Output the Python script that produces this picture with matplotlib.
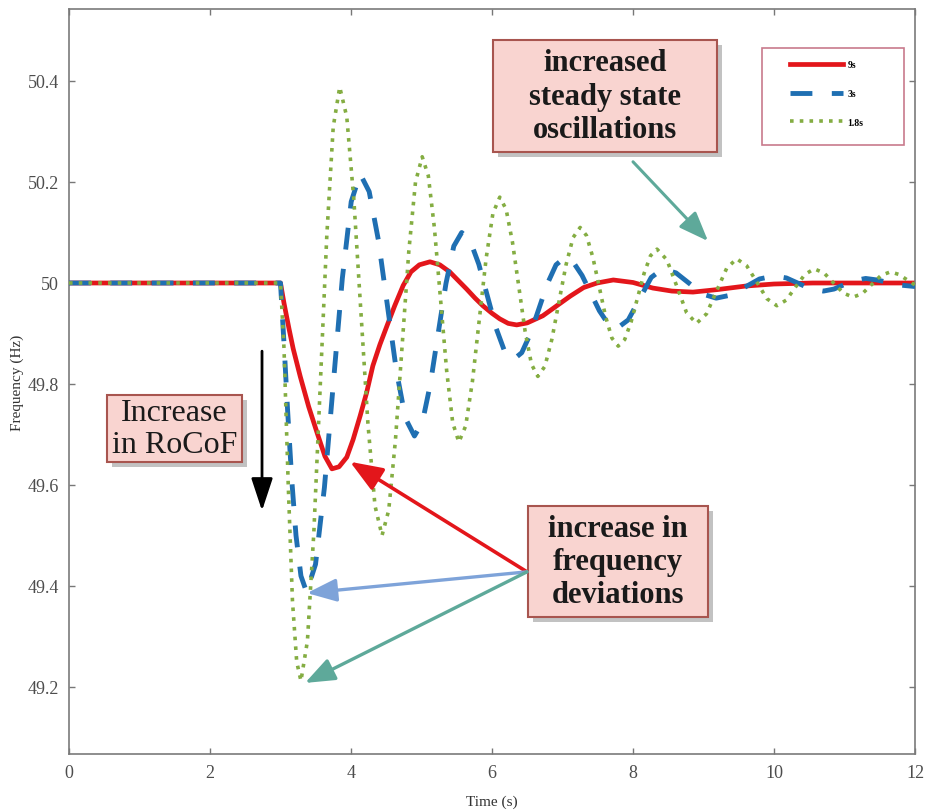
"""Frequency response for three inertia constants."""
import matplotlib.pyplot as plt
import matplotlib.patheffects as pe
from matplotlib.patches import Rectangle

# inertia constant H = 9 s
t_9s = [0.0, 3.00, 3.05, 3.12, 3.18, 3.28, 3.40, 3.52, 3.63, 3.73, 3.83,
        3.94, 4.03, 4.13, 4.22, 4.31, 4.41, 4.51, 4.62, 4.74, 4.85, 4.97,
        5.12, 5.26, 5.40, 5.52, 5.64, 5.76, 5.87, 6.00, 6.11, 6.23, 6.35,
        6.50, 6.72, 6.92, 7.11, 7.30, 7.49, 7.72, 8.00, 8.28, 8.55, 8.85,
        9.20, 9.60, 10.00, 10.55, 12.00]
f_9s = [50.000, 50.000, 49.960, 49.910, 49.870, 49.815, 49.755, 49.703,
        49.657, 49.632, 49.636, 49.655, 49.690, 49.737, 49.782, 49.836,
        49.878, 49.915, 49.955, 49.995, 50.022, 50.036, 50.042, 50.036,
        50.022, 50.005, 49.988, 49.970, 49.955, 49.940, 49.929, 49.920,
        49.917, 49.921, 49.935, 49.955, 49.974, 49.991, 50.000, 50.006,
        50.001, 49.990, 49.984, 49.982, 49.987, 49.994, 49.998, 50.000,
        50.000]

# inertia constant H = 3 s
t_3s = [0.0, 3.00, 3.05, 3.10, 3.16, 3.22, 3.29, 3.37,
        3.497, 3.623, 3.750, 3.877, 4.003, 4.13,
        4.258, 4.387, 4.515, 4.643, 4.772, 4.90,
        5.012, 5.123, 5.235, 5.347, 5.458, 5.57,
        5.692, 5.813, 5.935, 6.057, 6.178, 6.30,
        6.422, 6.543, 6.665, 6.787, 6.908, 7.03,
        7.153, 7.277, 7.400, 7.523, 7.647, 7.77,
        7.933, 8.095, 8.258, 8.42,
        8.61, 8.80, 8.99, 9.18,
        9.385, 9.59, 9.795, 10.00,
        10.175, 10.35, 10.525, 10.70,
        10.85, 11.00, 11.15, 11.30,
        11.46, 11.62, 11.78, 12.00]
f_3s = [50.000, 50.000, 49.880, 49.750, 49.610, 49.500, 49.420, 49.388,
        49.443, 49.595, 49.802, 50.009, 50.161, 50.216,
        50.181, 50.086, 49.957, 49.827, 49.732, 49.697,
        49.724, 49.798, 49.899, 49.999, 50.073, 50.100,
        50.083, 50.037, 49.974, 49.911, 49.865, 49.848,
        49.862, 49.899, 49.949, 49.999, 50.036, 50.050,
        50.041, 50.015, 49.980, 49.945, 49.919, 49.910,
        49.927, 49.969, 50.011, 50.028,
        50.020, 49.999, 49.978, 49.970,
        49.976, 49.992, 50.008, 50.014,
        50.010, 49.999, 49.988, 49.984,
        49.988, 49.997, 50.005, 50.009,
        50.006, 50.001, 49.996, 49.993]

# inertia constant H = 1.8 s
t_18s = [0.0, 3.00, 3.05, 3.11, 3.17, 3.23, 3.29,
         3.382, 3.473, 3.565, 3.657, 3.748, 3.84,
         3.94, 4.04, 4.14, 4.24, 4.34, 4.44,
         4.535, 4.630, 4.725, 4.820, 4.915, 5.01,
         5.097, 5.183, 5.270, 5.357, 5.443, 5.53,
         5.627, 5.723, 5.820, 5.917, 6.013, 6.11,
         6.20, 6.29, 6.38, 6.47, 6.56, 6.65,
         6.75, 6.85, 6.95, 7.05, 7.15, 7.25,
         7.34, 7.43, 7.52, 7.61, 7.70, 7.79,
         7.882, 7.973, 8.065, 8.157, 8.248, 8.34,
         8.48, 8.62, 8.76, 8.90,
         9.043, 9.185, 9.328, 9.47,
         9.613, 9.755, 9.898, 10.04,
         10.173, 10.305, 10.438, 10.57,
         10.708, 10.845, 10.983, 11.12,
         11.253, 11.385, 11.518, 11.65,
         11.77, 11.89, 12.00]
f_18s = [50.000, 50.000, 49.870, 49.600, 49.370, 49.250, 49.212,
         49.291, 49.506, 49.800, 50.094, 50.309, 50.388,
         50.329, 50.166, 49.944, 49.722, 49.559, 49.500,
         49.550, 49.688, 49.875, 50.063, 50.200, 50.250,
         50.212, 50.109, 49.968, 49.826, 49.723, 49.685,
         49.717, 49.806, 49.928, 50.049, 50.138, 50.170,
         50.146, 50.081, 49.993, 49.904, 49.839, 49.815,
         49.835, 49.889, 49.963, 50.036, 50.090, 50.110,
         50.094, 50.051, 49.993, 49.934, 49.891, 49.875,
         49.888, 49.923, 49.971, 50.019, 50.054, 50.067,
         50.046, 49.994, 49.941, 49.920,
         49.939, 49.984, 50.029, 50.048,
         50.034, 50.002, 49.969, 49.955,
         49.966, 49.992, 50.017, 50.028,
         50.020, 50.000, 49.980, 49.972,
         49.979, 49.997, 50.015, 50.022,
         50.017, 50.006, 49.996]

series_labels = ["9s", "3s", "1.8s"]
xticks = [0, 2, 4, 6, 8, 10, 12]
yticks = [49.2, 49.4, 49.6, 49.8, 50.0, 50.2, 50.4]
ytick_labels = ["49.2", "49.4", "49.6", "49.8", "50", "50.2", "50.4"]

SERIF = "Liberation Serif"
BOX_FACE = "#f9d4d0"
BOX_EDGE = "#a8554f"
TEAL = "#5ea99a"


def note_box(ax, x0, x1, y0, y1, text, weight="bold", size=22, linespacing=1.2):
    """Pink callout box with a drop shadow."""
    rect = Rectangle((x0, y0), x1 - x0, y1 - y0, facecolor=BOX_FACE,
                     edgecolor=BOX_EDGE, linewidth=1.5, zorder=5)
    rect.set_path_effects([
        pe.SimplePatchShadow(offset=(3.5, -3.5), shadow_rgbFace="#9a9a9a", alpha=0.6),
        pe.Normal(),
    ])
    ax.add_patch(rect)
    ax.text((x0 + x1) / 2, (y0 + y1) / 2, text, ha="center", va="center",
            fontsize=size, fontweight=weight, family=SERIF, color="#1a1a1a",
            linespacing=linespacing, zorder=6)


def arrow(ax, start, end, color, lw=2.2, scale=20, head="0.9", width="0.35"):
    ax.annotate("", xy=end, xytext=start, zorder=7,
                arrowprops=dict(arrowstyle=f"-|>,head_length={head},head_width={width}",
                                color=color, lw=lw, mutation_scale=scale,
                                shrinkA=0, shrinkB=0))


def main():
    fig = plt.figure(figsize=(9.27, 8.12), dpi=100)
    ax = fig.add_axes([0.0744, 0.0702, 0.9127, 0.9175])

    ax.plot(t_9s, f_9s, color="#e3161b", lw=3.4, label=series_labels[0], zorder=2)
    ax.plot(t_3s, f_3s, color="#1f6fb2", lw=3.5, linestyle=(0, (4.5, 4.0)),
            label=series_labels[1], zorder=3)
    ax.plot(t_18s, f_18s, color="#84ad42", lw=2.6, linestyle=(0, (1, 1.7)),
            label=series_labels[2], zorder=4)

    ax.set_xlim(0, 12)
    ax.set_ylim(49.0673, 50.5426)
    ax.set_xticks(xticks, labels=[str(v) for v in xticks])
    ax.set_yticks(yticks, labels=ytick_labels)
    ax.tick_params(direction="in", length=4, width=1, color="#777777",
                   top=True, right=True, labelsize=13, labelcolor="#4d4d4d", pad=7)
    for lab in ax.get_xticklabels() + ax.get_yticklabels():
        lab.set_family(SERIF)
    for sp in ax.spines.values():
        sp.set_color("#7a7a7a")
        sp.set_linewidth(1.2)

    ax.set_xlabel("Time (s)", family=SERIF, fontsize=11, color="#333333", labelpad=10)
    ax.set_ylabel("Frequency (Hz)", family=SERIF, fontsize=11, color="#333333", labelpad=3)

    # legend with its own frame
    ax.add_patch(Rectangle((0.819, 0.8174), 0.168, 0.1303, transform=ax.transAxes,
                           facecolor="white", edgecolor="#c87a8c", lw=1.2, zorder=8))
    leg = ax.legend(loc="upper left", bbox_to_anchor=(0.852, 0.9315), frameon=False,
                    borderpad=0, borderaxespad=0, handlelength=5.45, handletextpad=0.5,
                    labelspacing=2.05, prop=dict(family=SERIF, weight="bold", size=7))
    leg.set_zorder(9)

    # callouts
    note_box(ax, 6.01, 9.19, 50.259, 50.481, "increased\nsteady state\noscillations")
    arrow(ax, (8.0, 50.240), (9.064, 50.083), TEAL, lw=2.2, scale=20)

    note_box(ax, 0.539, 2.454, 49.646, 49.778, "Increase\nin RoCoF",
             weight="normal", size=23, linespacing=1.1)
    arrow(ax, (2.738, 49.865), (2.738, 49.549), "black", lw=2.0, scale=20,
          head="1.0", width="0.33")

    note_box(ax, 6.511, 9.064, 49.339, 49.558, "increase in\nfrequency\ndeviations")
    origin = (6.496, 49.428)
    arrow(ax, origin, (3.986, 49.646), "#e3161b", lw=2.6, scale=22)
    arrow(ax, origin, (3.376, 49.386), "#7ea3d9", lw=2.4, scale=20)
    arrow(ax, origin, (3.348, 49.208), TEAL, lw=2.4, scale=20)

    fig.savefig("out.png", dpi=100)
    plt.close(fig)


if __name__ == "__main__":
    main()
